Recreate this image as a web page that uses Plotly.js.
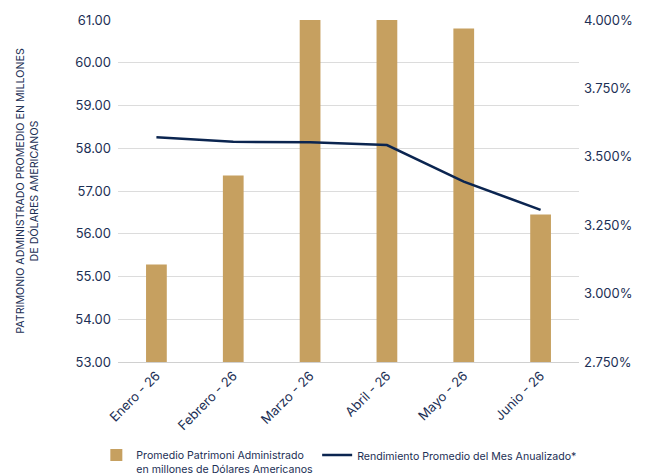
<!DOCTYPE html>
<html>
<head>
<meta charset="utf-8">
<script src="https://cdn.plot.ly/plotly-3.0.1.min.js"></script>
<style>html,body{margin:0;padding:0;background:#fff;}#chart{width:647px;height:476px;}</style>
</head>
<body>
<div id="chart"></div>
<script>
var categories = ["Enero - 26", "Febrero - 26", "Marzo - 26", "Abril - 26", "Mayo - 26", "Junio - 26"];
var patrimonio = [55.28, 57.36, 61.6, 61.5, 60.80, 56.45];
var rendimiento = [3.571, 3.555, 3.553, 3.543, 3.409, 3.306];
var leftTicks = [53, 54, 55, 56, 57, 58, 59, 60, 61];
var rightTicks = [2.75, 3.0, 3.25, 3.5, 3.75, 4.0];
var rightTickLabels = rightTicks.map(function (v) { return v.toFixed(3) + "%"; });

var navy = "#1c2f55";
var font = "Inter, 'Open Sans', sans-serif";

var traces = [
  {
    type: "bar",
    x: categories,
    y: patrimonio,
    name: "Promedio Patrimoni Administrado<br>en millones de Dólares Americanos",
    marker: {color: "#c6a060"},
    yaxis: "y",
    legend: "legend",
    hoverinfo: "x+y"
  },
  {
    type: "scatter",
    mode: "lines",
    x: categories,
    y: rendimiento,
    name: "Rendimiento Promedio del Mes Anualizado*",
    line: {color: "#0b2550", width: 2.5},
    yaxis: "y2",
    legend: "legend2"
  }
];

var legendBase = {
  orientation: "h",
  xref: "paper",
  yref: "container",
  xanchor: "left",
  y: 0.072,
  yanchor: "top",
  font: {size: 10.6, color: navy},
  valign: "top",
  bgcolor: "rgba(0,0,0,0)"
};

var layout = {
  width: 647,
  height: 476,
  margin: {l: 118, r: 68, t: 20, b: 114},
  paper_bgcolor: "#fff",
  plot_bgcolor: "#fff",
  font: {family: font, color: navy, size: 12},
  bargap: 0.73,
  showlegend: true,
  legend: Object.assign({}, legendBase, {x: -0.047}),
  legend2: Object.assign({}, legendBase, {x: 0.432}),
  xaxis: {
    type: "category",
    automargin: false,
    tickangle: -45,
    tickfont: {size: 13, color: navy},
    showgrid: false,
    showline: true,
    linecolor: "#d0d0d0",
    linewidth: 1,
    ticks: ""
  },
  yaxis: {
    range: [53, 61],
    automargin: false,
    tickvals: leftTicks,
    tickformat: ".2f",
    showgrid: true,
    gridcolor: "#dcdcdc",
    zeroline: false,
    tickfont: {size: 13, color: navy},
    ticklabelstandoff: 6,
    title: {
      text: "PATRIMONIO ADMINISTRADO PROMEDIO EN MILLONES<br>DE DÓLARES AMERICANOS",
      font: {size: 10.7, color: navy},
      standoff: 34
    }
  },
  yaxis2: {
    overlaying: "y",
    side: "right",
    automargin: false,
    range: [2.75, 4.0],
    tickvals: rightTicks,
    ticktext: rightTickLabels,
    showgrid: false,
    zeroline: false,
    tickfont: {size: 13, color: navy},
    ticklabelstandoff: 4
  }
};

Plotly.newPlot("chart", traces, layout, {displayModeBar: false, staticPlot: true});
</script>
</body>
</html>
